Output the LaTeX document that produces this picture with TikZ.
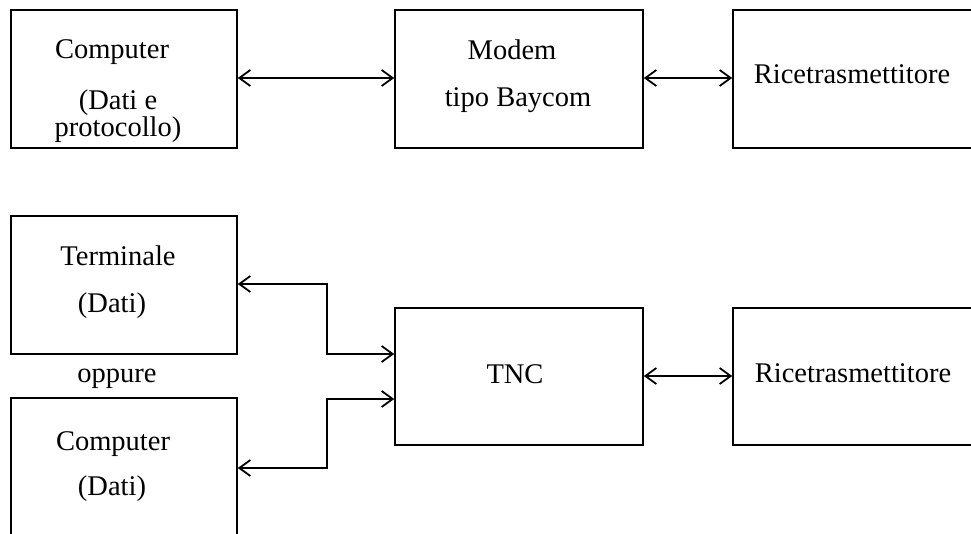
\documentclass[tikz,border=0pt]{standalone}
\usepackage{fontspec}
\setmainfont{Liberation Serif}
\usetikzlibrary{arrows.meta}
\begin{document}
\begin{tikzpicture}[x=1pt,y=-1pt,
  box/.style={draw=black,line width=1.6pt,inner sep=0pt,rectangle},
  lbl/.style={anchor=base,inner sep=0pt,font=\fontsize{28.5}{30}\selectfont},
  arr/.style={line width=1.6pt,{Straight Barb[length=11pt,width=16pt,line width=1.8pt]}-{Straight Barb[length=11pt,width=16pt,line width=1.8pt]}}]
\useasboundingbox (0,0) rectangle (971,533);
\clip (0,0) rectangle (971,533);
% boxes
\node[box,minimum width=226pt,minimum height=138pt] (c1) at (124,79) {};
\node[box,minimum width=248pt,minimum height=138pt] (modem) at (519,79) {};
\node[box,minimum width=280pt,minimum height=138pt] (r1) at (873,79) {};
\node[box,minimum width=226pt,minimum height=138pt] (term) at (124,285) {};
\node[box,minimum width=226pt,minimum height=170pt] (comp2) at (124,483) {};
\node[box,minimum width=248pt,minimum height=137pt] (tnc) at (519,376.5) {};
\node[box,minimum width=280pt,minimum height=137pt] (r2) at (873,376.5) {};
% labels
\node[lbl] (t1) at (112,58) {Computer};
\node[lbl,align=center,font=\fontsize{28.5}{18.5}\selectfont] (t2) at (118,136) {(Dati e\\protocollo)};
\node[lbl] (t4) at (512,59) {Modem};
\node[lbl] (t5) at (518,106) {tipo Baycom};
\node[lbl] (t6) at (852,83) {Ricetrasmettitore};
\node[lbl] (t7) at (118,265) {Terminale};
\node[lbl] (t8) at (112,312) {(Dati)};
\node[lbl] (t9) at (117,382) {oppure};
\node[lbl] (t10) at (113,450) {Computer};
\node[lbl] (t11) at (112,495) {(Dati)};
\node[lbl] (t12) at (515,383) {TNC};
\node[lbl] (t13) at (853,382) {Ricetrasmettitore};
% connectors
\draw[arr] ([yshift=1pt]c1.east) -- ([yshift=1pt]modem.west);
\draw[arr] ([yshift=1pt]modem.east) -- ([yshift=1pt]r1.west);
\draw[arr] ([yshift=0.5pt]tnc.east) -- ([yshift=0.5pt]r2.west);
\coordinate (ja) at (327,284);
\coordinate (jb) at (327,468);
\draw[arr] (ja -| term.east) -- (ja) |- ([yshift=22.5pt]tnc.west);
\draw[arr] (jb -| comp2.east) -- (jb) |- ([yshift=-22.5pt]tnc.west);
\end{tikzpicture}
\end{document}
